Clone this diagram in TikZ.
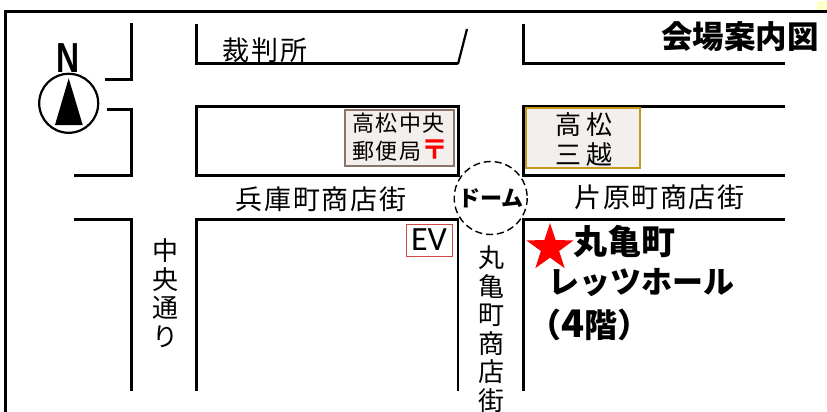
\documentclass[tikz,border=0pt]{standalone}
\usepackage{fontspec}
\usetikzlibrary{shapes.geometric}
\setmainfont{Noto Sans CJK JP}
\newfontfamily\evfont{Carlito}
\newfontfamily\nfont{Liberation Sans}
\definecolor{boxfill}{HTML}{F2EFEC}
\definecolor{postline}{HTML}{8C7468}
\definecolor{mitsuline}{HTML}{C59A1A}
\definecolor{evline}{HTML}{D04848}
\definecolor{cornertint}{HTML}{FFFFC8}
\tikzset{
  road/.style={draw=black,line width=3pt,line join=miter},
  thinroad/.style={draw=black,line width=2.2pt},
  lbl/.style={inner sep=0pt,outer sep=0pt,text=black,font=\fontsize{27}{27}\selectfont\addfontfeature{LetterSpace=6}},
  biglbl/.style={inner sep=0pt,outer sep=0pt,text=black,font=\fontsize{31.5}{31.5}\selectfont\bfseries},
  shoplbl/.style={inner sep=0pt,outer sep=0pt,text=black,align=left,font=\fontsize{22}{28}\selectfont\addfontfeature{LetterSpace=6}},
  vertlbl/.style={inner sep=0pt,outer sep=0pt,text=black,align=center,font=\fontsize{26}{28.5}\selectfont},
}
\begin{document}
\begin{tikzpicture}[x=1pt,y=-1pt]
\clip (0,0) rectangle (827,412);
\fill[white] (0,0) rectangle (827,412);
\fill[cornertint] (817,1) rectangle (827,10);
% frame
\draw[road] (5,412) -- (5,11.5) -- (827,11.5);
% left column roads
\draw[road] (105,79.5) -- (131.5,79.5) -- (131.5,23);
\draw[road] (107,109) -- (131.5,109) -- (131.5,175) -- (74,175);
\draw[road] (74,219) -- (131.5,219) -- (131.5,391);
% centre blocks
\draw[road] (196.5,24) -- (196.5,64) -- (458,64);
\draw[thinroad] (458,64) -- (467,29);
\draw[road] (458,106) -- (196.5,106) -- (196.5,175) -- (458,175);
\draw[road] (458,104.5) -- (458,176.5);
\draw[road] (196.5,391) -- (196.5,219) -- (458,219);
\draw[thinroad] (458,218) -- (458,391);
% right blocks
\draw[road] (523.5,24) -- (523.5,64) -- (785,64);
\draw[road] (785,106) -- (523.5,106) -- (523.5,175) -- (785,175);
\draw[road] (785,219) -- (523.5,219) -- (523.5,391);
% compass
\draw[black,line width=2.2pt] (68.7,103.3) circle (29.5);
\fill[black] (68.7,78.3) -- (82.7,125) -- (55,125) -- cycle;
\node[inner sep=0pt,font=\nfont\bfseries\fontsize{42}{42}\selectfont] (north) at (68.5,58) {\scalebox{.76}[1]{N}};
% boxes
\node[draw=postline,fill=boxfill,line width=1.6pt,minimum width=109pt,minimum height=56pt,inner sep=0pt] (postbox) at (399.5,138) {};
\node[shoplbl,anchor=west] (post) at (352.5,137) {高松中央\\郵便局\smash{\textcolor{red}{\fontsize{27}{28}\selectfont\bfseries 〒}}};
\node[draw=mitsuline,fill=boxfill,line width=2pt,minimum width=114.5pt,minimum height=60pt,inner sep=0pt] (mitsubox) at (583.2,138.3) {};
\node[shoplbl,align=center,font=\fontsize{26}{30}\selectfont] (mitsu) at (584,140) {高 松\\三 越};
\node[draw=evline,line width=1pt,minimum width=46pt,minimum height=32pt,inner sep=0pt,font=\evfont\fontsize{34}{34}\selectfont] (ev) at (429,240) {EV};
% dome
\draw[black,line width=1.4pt,dash pattern=on 7pt off 4pt] (490.7,198) circle (36.5);
\node[inner sep=0pt,font=\fontsize{22}{22}\selectfont\bfseries] (dome) at (490.7,198) {ドーム};
% labels
\node[lbl] (court) at (265,50) {裁判所};
\node[lbl] (hyogo) at (321,199) {兵庫町商店街};
\node[lbl] (kata) at (659.5,197) {片原町商店街};
\node[biglbl] (title) at (740,37) {会場案内図};
\node[vertlbl,anchor=north] (chuo) at (165.5,239) {中\\央\\通\\り};
\node[vertlbl,anchor=north] (maru) at (491,246) {丸\\亀\\町\\商\\店\\街};
% venue
\node[star,star points=5,star point ratio=2.6,fill=red,minimum size=50pt,inner sep=0pt] (venuestar) at (550,248) {};
\node[biglbl,font=\fontsize{34}{34}\selectfont\bfseries] (v1) at (624,242) {丸亀町};
\node[biglbl,font=\fontsize{31}{31}\selectfont\bfseries] (v2) at (641,283) {レッツホール};
\node[biglbl,anchor=west,font=\fontsize{33}{33}\selectfont\bfseries] (v3) at (528,325) {（{\fontsize{38}{33}\selectfont 4}階）};
\end{tikzpicture}
\end{document}
